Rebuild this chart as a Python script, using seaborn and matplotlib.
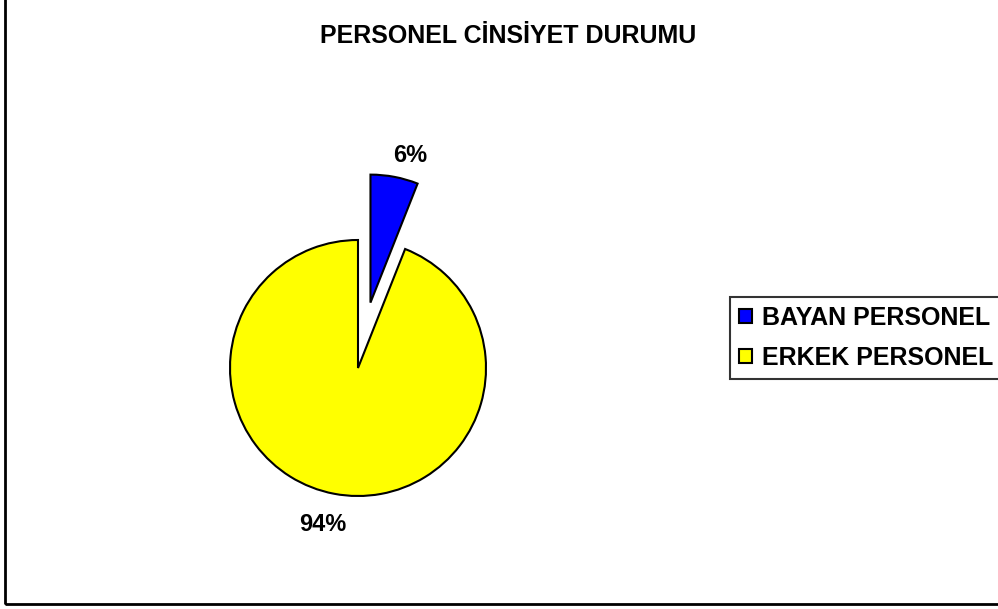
import matplotlib
matplotlib.use("Agg")
import matplotlib.pyplot as plt
from matplotlib.patches import Rectangle
import seaborn as sns

categories = ["BAYAN PERSONEL", "ERKEK PERSONEL"]
shares = [6, 94]
colors = ["#0000FF", "#FFFF00"]
explode = [0.52, 0]
title = "PERSONEL CİNSİYET DURUMU"

sns.set_style("white")
plt.rcParams["font.family"] = ["Liberation Sans", "DejaVu Sans"]
plt.rcParams["text.color"] = "black"

fig = plt.figure(figsize=(9.98, 6.09), dpi=100)

# pie axes: radius 1 == 128 px, centre at (358, 368) px
W, H = 998, 609
r_px = 128
half = 200
ax = fig.add_axes([(358 - half) / W, (H - 368 - half) / H, 2 * half / W, 2 * half / H])

wedges, _, autotexts = ax.pie(
    shares, colors=colors, explode=explode, startangle=90, counterclock=False,
    autopct="%1.0f%%", pctdistance=1.22,
    wedgeprops=dict(edgecolor="black", linewidth=1.5),
    textprops=dict(fontsize=17, fontweight="bold", color="black"),
)
# Excel-like label placement, slight nudges (in px)
for t, (dx, dy) in zip(autotexts, [(10, -6), (-6, -3)]):
    x, y = t.get_position()
    t.set_position((x + dx / r_px, y + dy / r_px))

lim = half / r_px
ax.set_xlim(-lim, lim)
ax.set_ylim(-lim, lim)
ax.set_aspect("equal")
ax.axis("off")

fig.text(508 / W, 1 - 36 / H, title, ha="center", va="center",
         fontsize=18, fontweight="bold", color="black")

leg = fig.legend(wedges, categories, loc="center left",
                 bbox_to_anchor=(730 / W, 1 - 338 / H),
                 prop=dict(size=18, weight="bold"),
                 frameon=True, fancybox=False, edgecolor="black",
                 handlelength=0.5, handleheight=0.5, handletextpad=0.4,
                 labelspacing=0.65, borderpad=0.36, borderaxespad=0)
leg.get_frame().set_linewidth(1.5)
for t in leg.get_texts():
    t.set_color("black")

fig.patches.append(Rectangle((5 / W, 5 / H), 1.2, 1.2, transform=fig.transFigure,
                             fill=False, edgecolor="black", linewidth=2))

fig.savefig("out.png", dpi=100)
